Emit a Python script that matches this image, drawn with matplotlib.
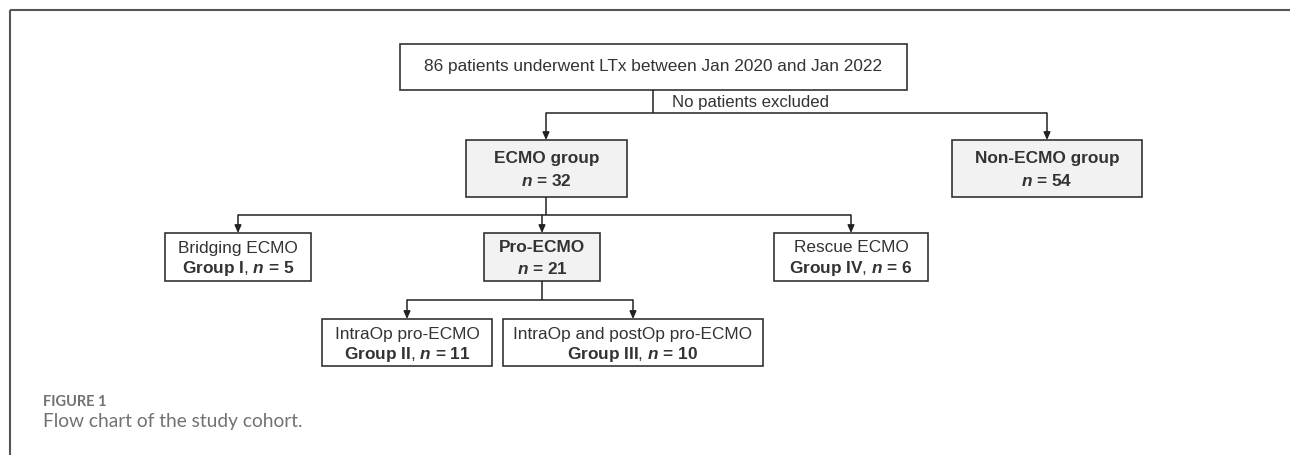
import matplotlib
matplotlib.use("Agg")
import matplotlib.pyplot as plt
from matplotlib.patches import Rectangle

# ---- data ----
total_label = "86 patients underwent LTx between Jan 2020 and Jan 2022"
exclusion_label = "No patients excluded"
group_names = ["ECMO group", "Non-ECMO group"]
group_n = [32, 54]
ecmo_sub_names = ["Bridging ECMO", "Pro-ECMO", "Rescue ECMO"]
ecmo_sub_groups = ["Group I", None, "Group IV"]
ecmo_sub_n = [5, 21, 6]
pro_sub_names = ["IntraOp pro-ECMO", "IntraOp and postOp pro-ECMO"]
pro_sub_groups = ["Group II", "Group III"]
pro_sub_n = [11, 10]
fig_label = "FIGURE 1"
caption = "Flow chart of the study cohort."

plt.rcParams["mathtext.fontset"] = "custom"
plt.rcParams["mathtext.bfit"] = "Liberation Sans:bold:italic"
plt.rcParams["mathtext.it"] = "Liberation Sans:italic"
plt.rcParams["mathtext.bf"] = "Liberation Sans:bold"
plt.rcParams["mathtext.rm"] = "Liberation Sans"

W, H = 1290, 455
fig = plt.figure(figsize=(W / 100, H / 100), dpi=100)
ax = fig.add_axes([0, 0, 1, 1])
ax.set_xlim(0, W)
ax.set_ylim(H, 0)
ax.axis("off")

TXT = "#333333"
LINE = "#222222"
FONT = "Liberation Sans"
FS = 12.4

# frame
ax.plot([9.5, W], [10, 10], color="#555555", lw=1.5, solid_capstyle="butt")
ax.plot([9.5, 9.5], [10, H], color="#555555", lw=1.5, solid_capstyle="butt")


def box(x0, x1, y0, y1, fill="white"):
    ax.add_patch(Rectangle((x0, y0), x1 - x0, y1 - y0, facecolor=fill,
                           edgecolor="#333333", lw=1.2, zorder=2))


def arrow(x, y0, y1):
    ax.annotate("", xy=(x, y1), xytext=(x, y0),
                arrowprops=dict(arrowstyle="-|>,head_length=0.45,head_width=0.2",
                                color=LINE, lw=1.1, shrinkA=0, shrinkB=0))


def line(xs, ys):
    ax.plot(xs, ys, color=LINE, lw=1.1, solid_capstyle="butt")


def txt(x, y, s, bold=False, **kw):
    ax.text(x, y, s, ha="center", va="center", fontsize=FS, color=TXT,
            family=FONT, fontweight="bold" if bold else "normal", **kw)


def group_line(grp, n):
    return f"{grp}$\\mathrm{{,}}$ $\\mathbfit{{n}}$ = {n}"


# top box
box(400, 907, 44, 90)
txt(653.5, 67, total_label)
line([653, 653], [90, 113])
ax.text(672, 102, exclusion_label, ha="left", va="center", fontsize=FS * 0.97,
        color=TXT, family=FONT)
line([546, 1047], [113, 113])
arrow(546, 113, 140)
arrow(1047, 113, 140)

# level 2
lvl2 = [(466, 627), (952, 1142)]
for (x0, x1), name, n in zip(lvl2, group_names, group_n):
    box(x0, x1, 140, 197, fill="#f2f2f2")
    cx = (x0 + x1) / 2
    txt(cx, 159, name, bold=True)
    txt(cx, 181, f"$\\mathbfit{{n}}$ = {n}", bold=True)

# level 3
line([546, 546], [197, 215])
lvl3 = [(165, 311), (484, 600), (774, 928)]
xs3 = [(a + b) / 2 for a, b in lvl3]
line([xs3[0], xs3[-1]], [215, 215])
for (x0, x1), name, grp, n in zip(lvl3, ecmo_sub_names, ecmo_sub_groups, ecmo_sub_n):
    cx = (x0 + x1) / 2
    arrow(cx, 215, 233)
    box(x0, x1, 233, 281, fill="white" if grp else "#f2f2f2")
    if grp:
        txt(cx, 248, name)
        txt(cx, 269, group_line(grp, n), bold=True)
    else:
        txt(cx, 248, name, bold=True)
        txt(cx, 269, f"$\\mathbfit{{n}}$ = {n}", bold=True)

# level 4
line([542, 542], [281, 300])
lvl4 = [(322, 492), (503, 763)]
xs4 = [(a + b) / 2 for a, b in lvl4]
line([xs4[0], xs4[-1]], [300, 300])
for (x0, x1), name, grp, n in zip(lvl4, pro_sub_names, pro_sub_groups, pro_sub_n):
    cx = (x0 + x1) / 2
    arrow(cx, 300, 319)
    box(x0, x1, 319, 366)
    txt(cx, 334, name)
    txt(cx, 355, group_line(grp, n), bold=True)

# caption
ax.text(43, 402, fig_label, ha="left", va="center", fontsize=10.5, color="#727272",
        family="Lato", fontweight="bold")
ax.text(43, 422, caption, ha="left", va="center", fontsize=13.8, color="#727272",
        family="Lato")

fig.savefig("out.png", dpi=100)
